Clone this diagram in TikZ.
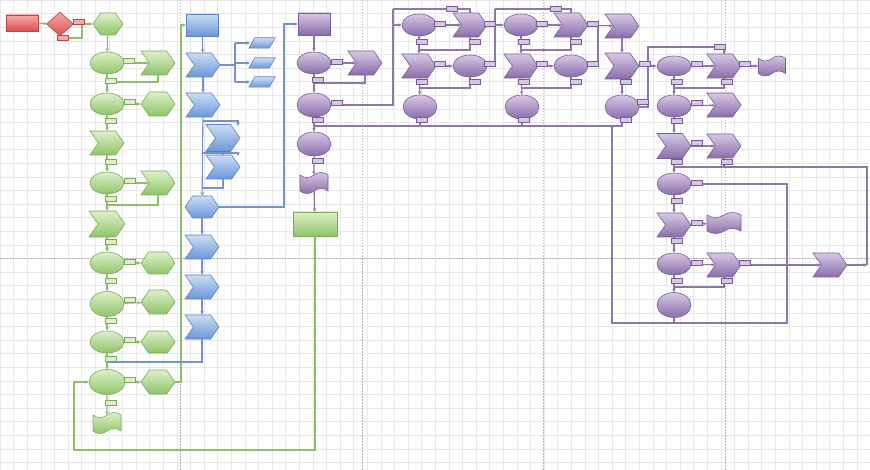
\documentclass[tikz,border=0pt]{standalone}
\usetikzlibrary{shapes.geometric,shapes.symbols,arrows.meta}
\definecolor{gT}{HTML}{DDF0CA}
\definecolor{gB}{HTML}{8FC468}
\definecolor{gD}{HTML}{7BAA58}
\definecolor{gL}{HTML}{8CBE6C}
\definecolor{bT}{HTML}{CCDDF4}
\definecolor{bB}{HTML}{6A96D8}
\definecolor{bD}{HTML}{5B82BE}
\definecolor{bL}{HTML}{7493C6}
\definecolor{pT}{HTML}{D6C8E4}
\definecolor{pB}{HTML}{8A6CAB}
\definecolor{pD}{HTML}{785C98}
\definecolor{pL}{HTML}{8E76AA}
\definecolor{rT}{HTML}{F7AAAA}
\definecolor{rB}{HTML}{DE5050}
\definecolor{rD}{HTML}{C04444}
\definecolor{gridc}{HTML}{E8E8EC}
\definecolor{pagec}{HTML}{B4B4B4}
\tikzset{
  sh/.style={inner sep=0pt, line width=0.6pt},
  ell/.style={sh, ellipse, minimum width=34pt, minimum height=22pt},
  chev/.style={sh, signal, signal to=east, signal from=west, signal pointer angle=110, minimum width=34pt, minimum height=24pt},
  hexa/.style={sh, signal, signal to=east and west, signal pointer angle=110, minimum width=34pt, minimum height=22pt},
  wave/.style={sh, tape, tape bend height=5pt, minimum width=28pt, minimum height=21pt},
  box/.style={sh, rectangle, minimum width=32pt, minimum height=22pt},
  pcore/.style={inner sep=0pt, rectangle, minimum width=20pt, minimum height=10pt},
  dia/.style={sh, diamond, aspect=1.15, minimum width=27pt, minimum height=24pt},
  G/.style={top color=gT, bottom color=gB, draw=gD},
  B/.style={top color=bT, bottom color=bB, draw=bD},
  P/.style={top color=pT, bottom color=pB, draw=pD},
  R/.style={top color=rT, bottom color=rB, draw=rD},
  gl/.style={draw=gL, line width=1.1pt},
  bl/.style={draw=bL, line width=1.1pt},
  pl/.style={draw=pL, line width=1.1pt},
  ar/.style={-{Stealth[length=3.5pt,width=3.5pt]}},
  lab/.style={rectangle, inner sep=0pt, minimum width=11pt, minimum height=5pt, line width=0.4pt},
  lg/.style={lab, fill=gT, draw=gD},
  lp/.style={lab, fill=pT, draw=pD},
  lr/.style={lab, fill=rT, draw=rD},
}
\begin{document}
\begin{tikzpicture}[x=1pt,y=-1pt]
\useasboundingbox (0,0) rectangle (870,470);
\fill[white] (0,0) rectangle (870,470);
\draw[gridc, line width=0.3pt] (0,0) grid[step=13.6pt] (870,470);
\foreach \xx in {180,362,543,725} \draw[pagec, dash pattern=on 1.5pt off 1.5pt, line width=0.5pt] (\xx,0) -- (\xx,470);
\draw[pagec, dash pattern=on 1.5pt off 1.5pt, line width=0.5pt] (0,258) -- (870,258);

% ---------- red ----------
\node[box,R,minimum width=32pt,minimum height=16pt] (r1) at (22,23) {};
\node[dia,R] (r2) at (60,24) {};

% ---------- green ----------
\node[hexa,G,minimum width=30pt] (g1) at (108,24) {};
\node[ell,G] (g2) at (107,63) {};
\node[chev,G] (g2r) at (158,63) {};
\node[ell,G] (g3) at (107,104) {};
\node[hexa,G,minimum height=24pt] (g3r) at (158,104) {};
\node[chev,G] (g4) at (107,143) {};
\node[ell,G] (g5) at (107,183) {};
\node[chev,G] (g5r) at (158,183) {};
\node[chev,G,minimum width=36pt,minimum height=26pt] (g6) at (107,224) {};
\node[ell,G] (g7) at (107,263) {};
\node[hexa,G] (g7r) at (158,263) {};
\node[ell,G,minimum height=25pt] (g8) at (107,304) {};
\node[hexa,G,minimum height=24pt] (g8r) at (158,302) {};
\node[ell,G] (g9) at (107,342) {};
\node[hexa,G] (g9r) at (158,342) {};
\node[ell,G,minimum width=36pt,minimum height=25pt] (g10) at (107,382) {};
\node[hexa,G,minimum height=24pt] (g10r) at (158,382) {};
\node[wave,G] (g11) at (107,423) {};
\node[box,G,minimum width=44pt,minimum height=24pt] (g12) at (315,224) {};

% ---------- blue ----------
\node[box,B] (b1) at (202,25) {};
\node[chev,B] (b2) at (203,65) {};
\foreach \n/\yy in {bp1/43,bp2/63,bp3/82}{
  \node[pcore] (\n) at (262,\yy) {};
  \path[B, line width=0.6pt] ([xshift=3pt]\n.north west) -- ([xshift=3pt]\n.north east)
     -- ([xshift=-3pt]\n.south east) -- ([xshift=-3pt]\n.south west) -- cycle;
}
\node[chev,B] (b3) at (203,105) {};
\node[chev,B,minimum height=27pt] (b4) at (223,138) {};
\node[chev,B] (b5) at (223,167) {};
\node[hexa,B] (b6) at (202,207) {};
\node[chev,B] (b7) at (202,247) {};
\node[chev,B] (b8) at (202,287) {};
\node[chev,B] (b9) at (202,327) {};

% ---------- purple ----------
\node[box,P] (pr) at (314,24) {};
\node[ell,P] (p1) at (314,63) {};
\node[chev,P] (p1r) at (365,63) {};
\node[ell,P,minimum height=24pt] (p2) at (314,105) {};
\node[ell,P,minimum height=24pt] (p3) at (314,144) {};
\node[wave,P] (p4) at (314,183) {};

\node[ell,P] (A) at (419,25) {};
\node[chev,P] (B) at (470,25) {};
\node[ell,P] (C) at (521,25) {};
\node[chev,P] (D) at (571,25) {};
\node[chev,P] (E) at (622,26) {};
\node[chev,P] (F) at (419,66) {};
\node[ell,P] (G) at (470,66) {};
\node[chev,P] (H) at (521,66) {};
\node[ell,P] (I) at (571,66) {};
\node[chev,P,minimum height=26pt] (J) at (622,66) {};
\node[ell,P,minimum height=24pt] (K) at (420,107) {};
\node[ell,P,minimum height=24pt] (L) at (522,107) {};
\node[ell,P,minimum height=24pt] (M) at (622,107) {};

\node[ell,P,minimum height=20pt] (R1) at (674,66) {};
\node[chev,P] (R1b) at (724,66) {};
\node[wave,P,minimum width=27pt,minimum height=20pt] (R1c) at (772,66) {};
\node[ell,P] (R2) at (674,106) {};
\node[chev,P] (R2b) at (724,105) {};
\node[chev,P,minimum height=25pt] (R3) at (674,146) {};
\node[chev,P] (R3b) at (724,146) {};
\node[ell,P] (R4) at (674,184) {};
\node[chev,P] (R5) at (674,225) {};
\node[wave,P,minimum width=34pt] (R5b) at (724,223) {};
\node[ell,P] (R6) at (674,264) {};
\node[chev,P] (R6b) at (724,265) {};
\node[chev,P] (R6c) at (830,265) {};
\node[ell,P,minimum height=25pt] (R7) at (674,305) {};

% ---------- junction coordinates ----------
\coordinate (jr1) at (60,38);
\coordinate (jr2) at (82,38);
\coordinate (jr3) at (82,24);
\coordinate (j2) at (107,82);
\coordinate (j5) at (107,205);
\coordinate (jg1) at (181,382);
\coordinate (jg2) at (74,450);
\coordinate (jb1) at (235,65);
\coordinate (jb2) at (235,43);
\coordinate (jb3) at (235,82);
\coordinate (jb4) at (235,63);
\coordinate (jb5) at (203,121);
\coordinate (jb6) at (238,121);
\coordinate (jb7) at (238,126);
\coordinate (jb8) at (203,153);
\coordinate (jb9) at (238,153);
\coordinate (jb10) at (238,156);
\coordinate (jb11) at (202,188);
\coordinate (jb12) at (284,207);
\coordinate (jb13) at (107,362);
\coordinate (jp1) at (314,83);
\coordinate (jp2) at (393,105);
\coordinate (jp3) at (393,9);
\coordinate (jA) at (393,25);
\coordinate (jp4) at (419,50);
\coordinate (jp5) at (419,88);
\coordinate (jp6) at (495,66);
\coordinate (jp7) at (495,9);
\coordinate (jp8) at (521,50);
\coordinate (jp9) at (521,88);
\coordinate (jp10) at (598,66);
\coordinate (jp11) at (598,26);
\coordinate (jp12) at (420,126);
\coordinate (jp13) at (522,126);
\coordinate (jp14) at (622,126);
\coordinate (jp15) at (314,126);
\coordinate (jp17) at (648,66);
\coordinate (jp18) at (648,47);
\coordinate (jp19) at (674,88);
\coordinate (jp20) at (674,167);
\coordinate (jp21) at (787,184);
\coordinate (jp22) at (787,323);
\coordinate (jp23) at (612,323);
\coordinate (jp24) at (612,126);
\coordinate (jp25) at (674,287);
\coordinate (jp26) at (674,323);
\coordinate (jp27) at (867,265);
\coordinate (jp28) at (867,167);

% ---------- green connectors ----------
\draw[gl,ar] (r1) -- (r2);
\draw[gl,ar] (r2) -- (g1);
\draw[gl] (r2.south) -- (jr1) -- (jr2) -- (jr3);
\foreach \a/\b in {g1/g2,g2/g3,g3/g4,g4/g5,g5/g6,g6/g7,g7/g8,g8/g9,g9/g10,g10/g11,
  g2/g2r,g3/g3r,g5/g5r,g7/g7r,g8/g8r,g9/g9r,g10/g10r}
  \draw[gl,ar] (\a) -- (\b);
\draw[gl] (g2r.south) |- (j2);
\draw[gl] (g5r.south) |- (j5);
\draw[gl,ar] (g10r.east) -- (jg1) |- (b1.west);
\draw[gl,ar] (g12.south) |- (jg2) |- (g10.west);

% ---------- blue connectors ----------
\draw[bl,ar] (b1) -- (b2);
\draw[bl,ar] (b2) -- (b3);
\draw[bl] (b2.east) -- (jb1);
\draw[bl] (jb2) -- (jb3);
\draw[bl,ar] (jb2) -- ([xshift=-2pt]bp1.west);
\draw[bl,ar] (jb4) -- ([xshift=-2pt]bp2.west);
\draw[bl,ar] (jb3) -- ([xshift=-2pt]bp3.west);
\draw[bl,ar] (b3) -- (b6);
\draw[bl,ar] (jb5) -- (jb6) -- (jb7);
\draw[bl,ar] (jb8) -- (jb9) -- (jb10);
\draw[bl] (b4) -- (b5);
\draw[bl] (b5.south) |- (jb11);
\draw[bl,ar] (b6.east) -- (jb12) |- (pr.west);
\draw[bl,ar] (b6) -- (b7);
\draw[bl,ar] (b7) -- (b8);
\draw[bl,ar] (b8) -- (b9);
\draw[bl] (b9.south) |- (jb13);

% ---------- purple connectors ----------
\foreach \a/\b in {pr/p1,p1/p1r,p1/p2,p2/p3,p3/p4,p4/g12,
  A/B,B/C,C/D,D/E,E/J,J/M,J/R1,A/F,F/G,F/K,C/H,H/I,H/L,
  R1/R1b,R1b/R1c,R1/R2,R2/R2b,R2/R3,R3/R3b,R3/R4,
  R4/R5,R5/R5b,R5/R6,R6/R6b,R6b/R6c,R6/R7}
  \draw[pl,ar] (\a) -- (\b);
\draw[pl] (p1r.south) |- (jp1);
\draw[pl] (p2.east) -- (jp2) -- (jp3);
\draw[pl,ar] (jA) -- (A);
\draw[pl] (B.north) |- (jp3);
\draw[pl] (B.south) |- (jp4);
\draw[pl] (G.south) |- (jp5);
\draw[pl] (G.east) -- (jp6) -- (jp7);
\draw[pl] (D.north) |- (jp7);
\draw[pl] (D.south) |- (jp8);
\draw[pl] (I.south) |- (jp9);
\draw[pl] (I.east) -- (jp10) -- (jp11);
\draw[pl] (K.south) -- (jp12);
\draw[pl] (L.south) -- (jp13);
\draw[pl] (M.south) -- (jp14) -- (jp15);
\draw[pl] (M.east) -| (jp17);
\draw[pl] (R1b.north) |- (jp18) -- (jp17);
\draw[pl] (R1b.south) |- (jp19);
\draw[pl] (R3b.south) |- (jp20);
\draw[pl] (R4.east) -- (jp21) -- (jp22) -- (jp23) -- (jp24);
\draw[pl] (R6b.south) |- (jp25);
\draw[pl] (R7.south) -- (jp26);
\draw[pl,ar] (R6c.east) -- (jp27);
\draw[pl] (jp27) -- (jp28) -- (jp20);

% ---------- labels ----------
\node[lr] (lr1) at (79,22) {};
\node[lr] (lr2) at (63,38) {};
\foreach \p [count=\i] in {(111,81),(129,61),(111,121),(130,102),(111,162),(130,181),(111,199),
  (111,242),(130,262),(111,281),(130,300),(111,321),(130,340),(111,359),(130,380),(111,403)}
  \node[lg] (lgn\i) at \p {};
\foreach \p [count=\i] in {(337,62),(318,80),(337,103),(318,120),(318,161),
  (440,24),(490,24),(440,64),(490,64),(422,42),(475,42),(422,82),(475,82),(452,9),(556,9),
  (542,24),(524,42),(576,42),(542,64),(593,64),(524,82),(576,82),(593,24),
  (422,120),(524,120),(626,120),(626,82),(645,64),(643,102),
  (720,47),(697,64),(745,64),(677,82),(727,82),(697,103),(677,121),(697,143),(677,162),(727,162),
  (697,183),(677,201),(697,223),(677,241),(697,263),(745,263),(727,281),(677,281)}
  \node[lp] (lpn\i) at \p {};
\end{tikzpicture}
\end{document}
